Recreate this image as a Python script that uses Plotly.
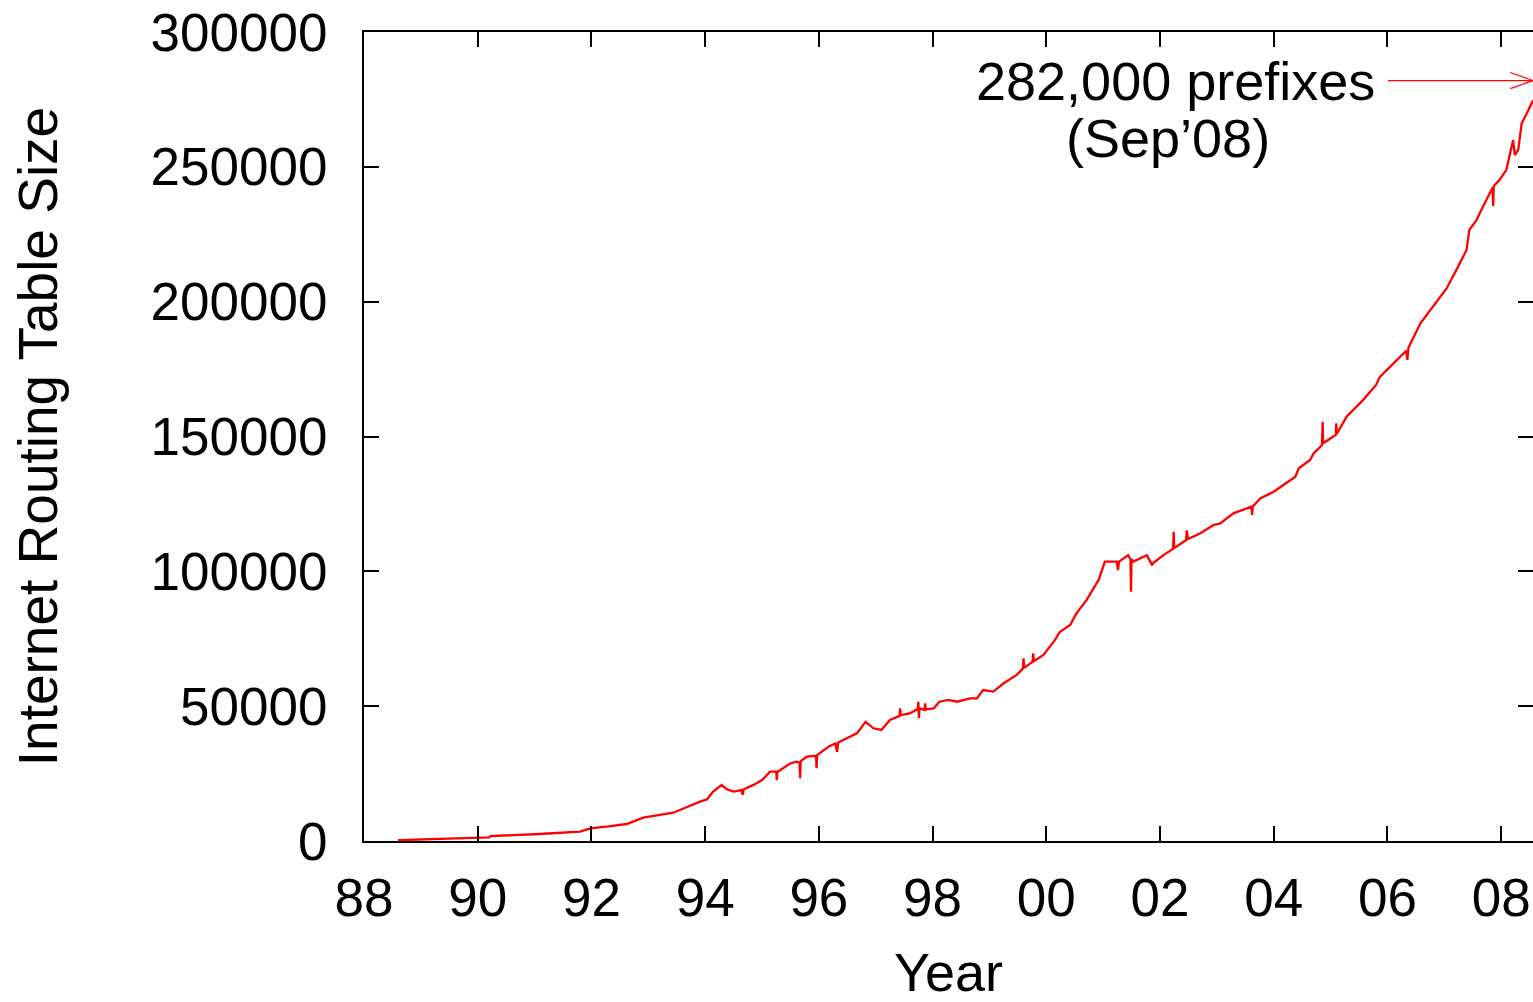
import plotly.graph_objects as go

# ---- data (year as 88..108, routing table size) ----
years = [88.60, 89.00, 89.50, 90.00, 90.20, 90.22, 91.00, 91.80, 91.98, 92.30,
         92.62, 92.91, 93.44, 93.91, 94.03, 94.14, 94.29, 94.38, 94.50, 94.64,
         94.66, 94.68, 94.85, 95.00, 95.14, 95.25, 95.26, 95.27, 95.38, 95.50,
         95.61, 95.66, 95.67, 95.68, 95.79, 95.95, 95.96, 95.97, 96.17, 96.29,
         96.32, 96.34, 96.49, 96.67, 96.82, 96.96, 97.10, 97.25, 97.42, 97.43,
         97.44, 97.60, 97.74, 97.75, 97.76, 97.77, 97.86, 97.87, 97.88, 98.02,
         98.12, 98.28, 98.43, 98.66, 98.78, 98.89, 99.07, 99.25, 99.48, 99.59,
         99.60, 99.61, 99.76, 99.77, 99.78, 99.95, 100.15, 100.24, 100.42, 100.53,
         100.71, 100.83, 100.92, 101.03, 101.24, 101.26, 101.28, 101.44, 101.48, 101.49,
         101.50, 101.53, 101.77, 101.86, 101.88, 102.06, 102.23, 102.24, 102.25, 102.46,
         102.47, 102.49, 102.71, 102.94, 103.06, 103.29, 103.53, 103.61, 103.62, 103.63,
         103.76, 104.00, 104.17, 104.38, 104.44, 104.64, 104.70, 104.85, 104.86, 104.87,
         105.04, 105.09, 105.10, 105.11, 105.28, 105.57, 105.80, 105.87, 106.05, 106.33,
         106.35, 106.37, 106.58, 106.90, 107.04, 107.21, 107.39, 107.44, 107.57, 107.62,
         107.75, 107.85, 107.86, 107.87, 107.97, 108.09, 108.21, 108.24, 108.30, 108.36,
         108.45, 108.56]
sizes = [300, 500, 800, 1100, 1300, 1850, 2500, 3450, 4700, 5400,
         6300, 8650, 10500, 14600, 15400, 18300, 20800, 19200, 18300, 18900,
         17100, 19200, 20800, 22600, 25700, 25700, 22600, 25600, 27000, 28800,
         29400, 29000, 23250, 29600, 31250, 31600, 27000, 31900, 35000, 36200,
         33100, 36500, 38100, 39900, 44200, 41800, 41200, 44900, 46400, 49200,
         46700, 47300, 49000, 51650, 45500, 49200, 48600, 51000, 48800, 49200,
         51650, 52300, 51650, 52900, 52900, 56000, 55400, 58500, 61600, 64000,
         67700, 64200, 66500, 69600, 66700, 69000, 74500, 77600, 80100, 84400,
         89400, 93700, 96800, 103600, 103600, 100500, 103600, 106000, 104500, 92400,
         104500, 103600, 106000, 102300, 103100, 106000, 108300, 114700, 108600, 111600,
         115200, 112000, 114100, 117200, 117800, 121500, 123400, 124000, 120900, 124000,
         127000, 129500, 132000, 135100, 138200, 141300, 143700, 146800, 155500, 147500,
         149900, 150500, 154900, 151000, 157300, 163500, 169100, 172200, 175900, 181800,
         178400, 183000, 192000, 201200, 204900, 211700, 219100, 226600, 230300, 232700,
         238200, 242300, 235500, 242900, 245100, 248800, 259900, 254400, 256200, 266100,
         269800, 274700]

x_ticks = [88, 90, 92, 94, 96, 98, 100, 102, 104, 106, 108]
x_tick_labels = ["88", "90", "92", "94", "96", "98", "00", "02", "04", "06", "08"]
y_ticks = [0, 50000, 100000, 150000, 200000, 250000, 300000]

X_MIN, X_MAX = 88, 108.56
Y_MIN, Y_MAX = 0, 300000

label_line1 = "282,000 prefixes"
label_line2 = "(Sep\u201908)"
label_value = 282000
arrow_start = 106.01

FONT = "Liberation Sans, Arial, Helvetica, sans-serif"

fig = go.Figure()
fig.add_trace(go.Scatter(x=years, y=sizes, mode="lines",
                         line=dict(color="#ff0000", width=2.3),
                         showlegend=False, hoverinfo="skip"))
# dummy trace on right axis for mirrored ticks
fig.add_trace(go.Scatter(x=[X_MIN], y=[Y_MIN], yaxis="y2", mode="lines",
                         showlegend=False, hoverinfo="skip", line=dict(width=0)))

fig.update_layout(
    width=1533, height=1002,
    margin=dict(l=364, r=0, t=32, b=161),
    paper_bgcolor="white", plot_bgcolor="white",
    font=dict(family=FONT, size=53, color="black"),
    xaxis=dict(range=[X_MIN, X_MAX], tickvals=x_ticks, ticktext=x_tick_labels,
               ticks="inside", ticklen=15, tickwidth=2, tickcolor="black",
               showline=True, linecolor="black", linewidth=2, mirror="ticks",
               showgrid=False, zeroline=False, ticklabelstandoff=9, automargin=False,
               title=dict(text="Year", standoff=48, font=dict(size=54))),
    yaxis=dict(range=[Y_MIN, Y_MAX], tickvals=y_ticks, tickformat="d",
               ticks="inside", ticklen=15, tickwidth=2, tickcolor="black",
               showline=True, linecolor="black", linewidth=2, mirror=False,
               showgrid=False, zeroline=False, ticklabelstandoff=24, automargin=False,
               title=dict(text="Internet Routing Table Size", standoff=75, font=dict(size=55))),
    yaxis2=dict(range=[Y_MIN, Y_MAX], tickvals=y_ticks, overlaying="y", side="right",
                ticks="inside", ticklen=15, tickwidth=2, tickcolor="black",
                showticklabels=False, showline=False, showgrid=False, zeroline=False,
                automargin=False),
)

# label text
fig.add_annotation(x=102.27, y=label_value, text=label_line1, showarrow=False,
                   xanchor="center", yanchor="middle", font=dict(size=54))
fig.add_annotation(x=102.14, y=260700, text=label_line2, showarrow=False,
                   xanchor="center", yanchor="middle", font=dict(size=54))

# open-head arrow (gnuplot style)
head_dx, head_dy = 0.40, 3000
fig.add_shape(type="line", x0=arrow_start, y0=label_value, x1=X_MAX, y1=label_value,
              line=dict(color="#ff0000", width=1.2))
fig.add_shape(type="line", x0=X_MAX - head_dx, y0=label_value + head_dy, x1=X_MAX, y1=label_value,
              line=dict(color="#ff0000", width=1.2))
fig.add_shape(type="line", x0=X_MAX - head_dx, y0=label_value - head_dy, x1=X_MAX, y1=label_value,
              line=dict(color="#ff0000", width=1.2))

fig.write_html("out.html", config={"displayModeBar": False},
               post_script="document.body.style.margin='0';document.body.style.padding='0';")
